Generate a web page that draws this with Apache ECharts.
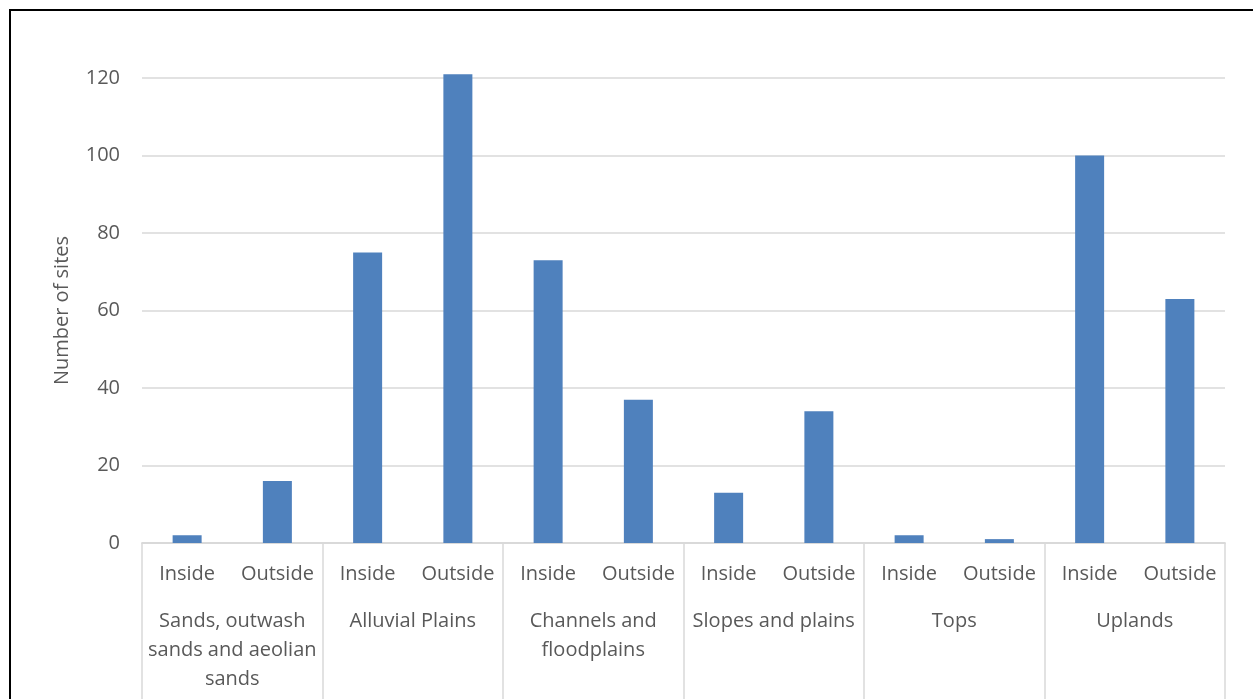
<!DOCTYPE html>
<html>
<head>
<meta charset="utf-8">
<title>Number of sites</title>
<script src="https://cdn.jsdelivr.net/npm/echarts@6/dist/echarts.min.js"></script>
<style>
  html, body { margin: 0; padding: 0; background: #fff; overflow: hidden; }
  #main { width: 1253px; height: 699px; }
  #frame {
    position: absolute; left: 9px; top: 9px; width: 1300px; height: 760px;
    border-left: 2px solid #000; border-top: 2px solid #000; pointer-events: none;
  }
</style>
</head>
<body>
<div id="main"></div>
<div id="frame"></div>
<script>
  // data
  var positions = ['Inside', 'Outside', 'Inside', 'Outside', 'Inside', 'Outside',
    'Inside', 'Outside', 'Inside', 'Outside', 'Inside', 'Outside'];
  var groups = ['Sands, outwash\nsands and aeolian\nsands', 'Alluvial Plains',
    'Channels and\nfloodplains', 'Slopes and plains', 'Tops', 'Uplands'];
  var sites = [2, 16, 75, 121, 73, 37, 13, 34, 2, 1, 100, 63];

  var font = '"Open Sans", sans-serif';
  var grey = '#595959';
  var lineGrey = '#d9d9d9';

  var chart = echarts.init(document.getElementById('main'));
  var option = {
    animation: false,
    grid: { left: 142, right: 28, top: 78, bottom: 156 },
    xAxis: [{
      type: 'category',
      data: positions,
      axisLine: { lineStyle: { color: lineGrey, width: 1.5 } },
      axisTick: { show: false },
      axisLabel: { color: grey, fontFamily: font, fontSize: 20, margin: 21, interval: 0 }
    }, {
      type: 'category',
      position: 'bottom',
      data: groups,
      axisLine: { lineStyle: { color: lineGrey, width: 1.5 } },
      axisTick: { show: true, length: 160, lineStyle: { color: lineGrey, width: 1.5 } },
      axisLabel: { color: grey, fontFamily: font, fontSize: 20, margin: 64, lineHeight: 29, interval: 0 }
    }],
    yAxis: {
      type: 'value',
      min: 0,
      max: 120,
      interval: 20,
      name: 'Number of sites',
      nameLocation: 'middle',
      nameGap: 70,
      nameTextStyle: { color: grey, fontFamily: font, fontSize: 20 },
      axisLine: { show: false },
      axisTick: { show: false },
      axisLabel: { color: grey, fontFamily: font, fontSize: 20, margin: 22 },
      splitLine: { lineStyle: { color: lineGrey, width: 1.5 } }
    },
    series: [{
      type: 'bar',
      data: sites,
      xAxisIndex: 0,
      barWidth: 29,
      clip: false,
      itemStyle: { color: '#4f81bd' }
    }]
  };
  chart.setOption(option);
</script>
</body>
</html>
